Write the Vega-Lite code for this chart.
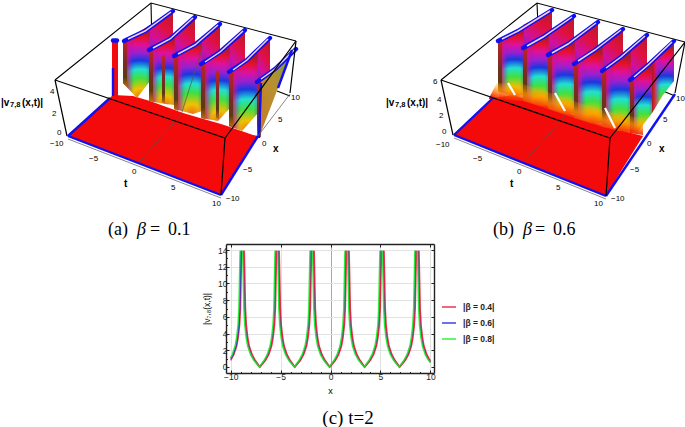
{"$schema":"https://vega.github.io/schema/vega-lite/v6.json","padding":0,"background":"white","columns":2,"spacing":0,"bounds":"flush",
"config":{"view":{"stroke":null},"text":{"font":"Liberation Sans","baseline":"middle","align":"left"},"line":{"clip":false}},
"datasets":{
"fa":[{"w":1,"u":123,"t":38,"b":80},{"w":1,"u":137,"t":30,"b":95},{"w":1,"u":150,"t":22,"b":78},{"w":2,"u":149,"t":47,"b":98},{"w":2,"u":165,"t":37,"b":101},{"w":2,"u":175,"t":30,"b":102},{"w":3,"u":174,"t":53,"b":106},{"w":3,"u":193,"t":40,"b":111},{"w":3,"u":202,"t":34,"b":108},{"w":4,"u":201,"t":61,"b":115},{"w":4,"u":218,"t":48,"b":118},{"w":4,"u":230,"t":39,"b":105},{"w":5,"u":229,"t":69,"b":123},{"w":5,"u":242,"t":60,"b":128},{"w":5,"u":258,"t":47,"b":110}],
"fb":[{"w":1,"u":155,"t":38,"b":88},{"w":1,"u":170,"t":29,"b":93},{"w":1,"u":181,"t":22,"b":92},{"w":2,"u":180,"t":45,"b":97},{"w":2,"u":197,"t":34,"b":103},{"w":2,"u":206,"t":28,"b":102},{"w":3,"u":205,"t":52,"b":105},{"w":3,"u":222,"t":41,"b":111},{"w":3,"u":232,"t":35,"b":110},{"w":4,"u":231,"t":61,"b":114},{"w":4,"u":248,"t":49,"b":120},{"w":4,"u":260,"t":41,"b":120},{"w":5,"u":259,"t":68,"b":122},{"w":5,"u":276,"t":55,"b":128},{"w":5,"u":288,"t":47,"b":128},{"w":6,"u":287,"t":77,"b":128},{"w":6,"u":294,"t":71,"b":130},{"w":6,"u":309,"t":59,"b":110},{"w":7,"u":309,"t":59,"b":110},{"w":7,"u":320,"t":49,"b":92},{"w":7,"u":331,"t":38,"b":78}]
},
"concat":[
{"width":226,"height":241,
"encoding":{"x":{"field":"u","type":"quantitative","scale":{"domain":[0,226],"nice":false},"axis":null},"y":{"field":"t","type":"quantitative","scale":{"domain":[241,0],"nice":false},"axis":null}},
"layer":[
{"data":{"values":[{"e":1,"u":55,"t":77},{"e":1,"u":151,"t":0},{"e":1,"u":296,"t":38},{"e":2,"u":151,"t":0},{"e":2,"u":152,"t":45},{"e":3,"u":277,"t":88},{"e":3,"u":290,"t":93}]},"mark":{"type":"line","color":"black","strokeWidth":1.1},"encoding":{"detail":{"field":"e"}}},
{"data":{"values":[{"w":"f","u":67,"t":133,"b":133},{"w":"f","u":113,"t":92,"b":151},{"w":"f","u":133,"t":93,"b":158},{"w":"f","u":150,"t":98,"b":165},{"w":"f","u":183,"t":110,"b":177},{"w":"f","u":200,"t":115,"b":184},{"w":"f","u":221,"t":121,"b":192},{"w":"f","u":227,"t":123,"b":182},{"w":"f","u":253,"t":132,"b":141},{"w":"f","u":258,"t":133,"b":133},{"w":"s","u":112,"t":38,"b":95},{"w":"s","u":118,"t":38,"b":95}]},"mark":{"type":"area","color":"#f40a0a"},"encoding":{"y2":{"field":"b"},"detail":{"field":"w"}}},
{"data":{"values":[{"w":1,"u":149,"t":23,"b":52},{"w":1,"u":173,"t":8,"b":40},{"w":2,"u":174,"t":31,"b":58},{"w":2,"u":195,"t":14,"b":45},{"w":3,"u":201,"t":34,"b":65},{"w":3,"u":220,"t":21,"b":55},{"w":4,"u":229,"t":39,"b":73},{"w":4,"u":245,"t":27,"b":62},{"w":5,"u":257,"t":48,"b":83},{"w":5,"u":270,"t":35,"b":72}]},"mark":{"type":"area","fill":{"gradient":"linear","x1":0.7,"y1":0,"x2":0.3,"y2":1,"stops":[{"offset":0,"color":"#c01828"},{"offset":0.35,"color":"#e01040"},{"offset":0.7,"color":"#d010a0"},{"offset":1,"color":"#8020c0"}]}},"encoding":{"y2":{"field":"b"},"detail":{"field":"w"}}},
{"data":{"name":"fa"},"mark":{"type":"area","fill":{"gradient":"radial","x1":0.55,"y1":1,"r1":0,"x2":0.55,"y2":1,"r2":0.92,"stops":[{"offset":0,"color":"#e8701a"},{"offset":0.14,"color":"#f2c000"},{"offset":0.3,"color":"#40e040"},{"offset":0.43,"color":"#20e0d0"},{"offset":0.56,"color":"#1838e0"},{"offset":0.67,"color":"#9a20d0"},{"offset":0.79,"color":"#e0109a"},{"offset":0.9,"color":"#e8102a"},{"offset":1,"color":"#b01818"}]}},"encoding":{"y2":{"field":"b"},"detail":{"field":"w"}}},
{"data":{"name":"fa"},"mark":{"type":"area","fill":{"gradient":"linear","x1":0,"y1":0.5,"x2":1,"y2":0.5,"stops":[{"offset":0,"color":"rgba(168,24,24,1)"},{"offset":0.12,"color":"rgba(225,16,60,0.85)"},{"offset":0.24,"color":"rgba(200,20,170,0.5)"},{"offset":0.34,"color":"rgba(120,30,210,0.15)"},{"offset":0.42,"color":"rgba(60,40,220,0)"},{"offset":0.85,"color":"rgba(60,40,220,0)"},{"offset":1,"color":"rgba(200,20,120,0.35)"}]}},"encoding":{"y2":{"field":"b"},"detail":{"field":"w"}}},
{"data":{"values":[{"w":6,"u":260,"t":79,"b":132},{"w":6,"u":278,"t":62,"b":85},{"w":6,"u":291,"t":47,"b":48}]},"mark":{"type":"area","fill":{"gradient":"linear","x1":0,"y1":1,"x2":1,"y2":0,"stops":[{"offset":0,"color":"#c87a28"},{"offset":0.5,"color":"#b89030"},{"offset":1,"color":"#7a9a40"}]}},"encoding":{"y2":{"field":"b"},"detail":{"field":"w"}}},
{"data":{"values":[{"w":1,"u":123,"t":38,"b":80},{"w":1,"u":127,"t":36,"b":84},{"w":2,"u":149,"t":47,"b":98},{"w":2,"u":153,"t":44,"b":98},{"w":3,"u":174,"t":53,"b":106},{"w":3,"u":178,"t":50,"b":108},{"w":4,"u":201,"t":61,"b":115},{"w":4,"u":205,"t":58,"b":116},{"w":5,"u":229,"t":69,"b":122},{"w":5,"u":233,"t":66,"b":124},{"w":7,"u":162,"t":53,"b":99},{"w":7,"u":165,"t":52,"b":100},{"w":8,"u":216,"t":69,"b":115},{"w":8,"u":219,"t":67,"b":116},{"w":9,"u":257,"t":79,"b":134},{"w":9,"u":261,"t":76,"b":134}]},"mark":{"type":"area","fill":{"gradient":"linear","x1":0,"y1":0,"x2":0,"y2":1,"stops":[{"offset":0,"color":"#c8202a"},{"offset":0.5,"color":"#7a2a28"},{"offset":0.8,"color":"#5a3a10"},{"offset":1,"color":"#c06a10"}]}},"encoding":{"y2":{"field":"b"},"detail":{"field":"w"}}},
{"data":{"values":[{"e":1,"u":124,"t":38},{"e":1,"u":145,"t":28},{"e":1,"u":173,"t":8},{"e":2,"u":149,"t":47},{"e":2,"u":170,"t":36},{"e":2,"u":195,"t":14},{"e":3,"u":174,"t":53},{"e":3,"u":195,"t":42},{"e":3,"u":220,"t":21},{"e":4,"u":201,"t":61},{"e":4,"u":220,"t":49},{"e":4,"u":245,"t":27},{"e":5,"u":229,"t":69},{"e":5,"u":247,"t":57},{"e":5,"u":270,"t":35},{"e":6,"u":257,"t":79},{"e":6,"u":275,"t":66},{"e":6,"u":296,"t":46},{"e":7,"u":113,"t":37.5},{"e":7,"u":117,"t":37.5}]},"mark":{"type":"line","color":"#1010f0","strokeWidth":4.4,"strokeCap":"round"},"encoding":{"detail":{"field":"e"}}},
{"data":{"values":[{"e":1,"u":128,"t":36},{"e":1,"u":145,"t":28},{"e":1,"u":171,"t":9},{"e":2,"u":153,"t":45},{"e":2,"u":170,"t":36},{"e":2,"u":193,"t":15},{"e":3,"u":178,"t":51},{"e":3,"u":195,"t":42},{"e":3,"u":218,"t":22},{"e":4,"u":205,"t":59},{"e":4,"u":220,"t":49},{"e":4,"u":243,"t":28},{"e":5,"u":233,"t":67},{"e":5,"u":247,"t":57},{"e":5,"u":268,"t":36},{"e":6,"u":261,"t":76},{"e":6,"u":275,"t":66},{"e":6,"u":294,"t":47}]},"mark":{"type":"line","color":"#f6d4de","strokeWidth":1.5},"encoding":{"detail":{"field":"e"}}},
{"data":{"values":[{"e":1,"u":68,"t":133},{"e":1,"u":221,"t":192},{"e":2,"u":68,"t":133},{"e":2,"u":110,"t":95},{"e":3,"u":221,"t":192},{"e":3,"u":258,"t":133},{"e":4,"u":113,"t":65},{"e":4,"u":113,"t":93},{"e":5,"u":261,"t":80},{"e":5,"u":259,"t":135},{"e":6,"u":292,"t":47},{"e":6,"u":278,"t":85}]},"mark":{"type":"line","color":"#1010f0","strokeWidth":2.4},"encoding":{"detail":{"field":"e"}}},
{"data":{"values":[{"e":1,"u":140,"t":158},{"e":1,"u":181,"t":112},{"e":1,"u":203,"t":43},{"e":2,"u":258,"t":133},{"e":2,"u":290,"t":91},{"e":3,"u":68,"t":136},{"e":3,"u":221,"t":195}]},"mark":{"type":"line","color":"#555555","strokeWidth":0.7},"encoding":{"detail":{"field":"e"}}},
{"data":{"values":[{"e":1,"u":55,"t":77},{"e":1,"u":225,"t":135},{"e":1,"u":296,"t":38},{"e":2,"u":225,"t":135},{"e":2,"u":221,"t":192},{"e":3,"u":55,"t":77},{"e":3,"u":67,"t":133},{"e":4,"u":296,"t":38},{"e":4,"u":290,"t":90}]},"mark":{"type":"line","color":"black","strokeWidth":1.2},"encoding":{"detail":{"field":"e"}}},
{"data":{"values":[{"s":"−10","u":50,"t":141},{"s":"−5","u":89,"t":156},{"s":"0","u":132,"t":169},{"s":"5","u":171,"t":185},{"s":"10","u":212,"t":201},{"s":"−10","u":226,"t":196},{"s":"−5","u":243,"t":167},{"s":"0","u":262,"t":141},{"s":"5","u":278,"t":117},{"s":"10","u":291,"t":95},{"s":"4","u":50,"t":89},{"s":"2","u":52,"t":111},{"s":"0","u":57,"t":130}]},"mark":{"type":"text","fontSize":8},"encoding":{"text":{"field":"s"}}},
{"data":{"values":[{"s":"t","u":124,"t":181},{"s":"x","u":273,"t":146},{"s":"|v","u":1,"t":100},{"s":"(x,t)|","u":22,"t":100}]},"mark":{"type":"text","fontSize":10,"fontWeight":"bold"},"encoding":{"text":{"field":"s"}}},
{"data":{"values":[{"s":"7,8","u":10,"t":102}]},"mark":{"type":"text","fontSize":7.5,"fontWeight":"bold"},"encoding":{"text":{"field":"s"}}},
{"data":{"values":[{"s":"(a)","u":108,"t":227},{"s":"=","u":150,"t":227},{"s":"0.1","u":168,"t":227}]},"mark":{"type":"text","font":"Liberation Serif","fontSize":18},"encoding":{"text":{"field":"s"}}},
{"data":{"values":[{"s":"β","u":137,"t":227}]},"mark":{"type":"text","font":"Liberation Serif","fontStyle":"italic","fontSize":18},"encoding":{"text":{"field":"s"}}}
]},
{"width":459,"height":241,
"encoding":{"x":{"field":"u","type":"quantitative","scale":{"domain":[-117,342],"nice":false},"axis":null},"y":{"field":"t","type":"quantitative","scale":{"domain":[241,0],"nice":false},"axis":null}},
"layer":[
{"data":{"values":[{"e":1,"u":98,"t":77},{"e":1,"u":194,"t":0},{"e":1,"u":342,"t":39},{"e":2,"u":194,"t":0},{"e":2,"u":196,"t":45},{"e":3,"u":320,"t":88},{"e":3,"u":332,"t":93}]},"mark":{"type":"line","color":"black","strokeWidth":1.1},"encoding":{"detail":{"field":"e"}}},
{"data":{"values":[{"w":"f","u":110,"t":132,"b":132},{"w":"f","u":150,"t":95,"b":148},{"w":"f","u":170,"t":92,"b":156},{"w":"f","u":205,"t":103,"b":170},{"w":"f","u":257,"t":122,"b":191},{"w":"f","u":263,"t":124,"b":193},{"w":"f","u":280,"t":128,"b":165},{"w":"f","u":300,"t":133,"b":133}]},"mark":{"type":"area","color":"#f40a0a"},"encoding":{"y2":{"field":"b"},"detail":{"field":"w"}}},
{"data":{"values":[{"w":1,"u":180,"t":22,"b":50},{"w":1,"u":209,"t":7,"b":32},{"w":2,"u":205,"t":28,"b":57},{"w":2,"u":231,"t":13,"b":40},{"w":3,"u":231,"t":35,"b":66},{"w":3,"u":255,"t":19,"b":50},{"w":4,"u":259,"t":41,"b":73},{"w":4,"u":280,"t":26,"b":58},{"w":5,"u":287,"t":47,"b":82},{"w":5,"u":304,"t":32,"b":70}]},"mark":{"type":"area","fill":{"gradient":"linear","x1":0.7,"y1":0,"x2":0.3,"y2":1,"stops":[{"offset":0,"color":"#c01828"},{"offset":0.35,"color":"#e01040"},{"offset":0.7,"color":"#d010a0"},{"offset":1,"color":"#8020c0"}]}},"encoding":{"y2":{"field":"b"},"detail":{"field":"w"}}},
{"data":{"name":"fb"},"mark":{"type":"area","fill":{"gradient":"radial","x1":0.55,"y1":1,"r1":0,"x2":0.55,"y2":1,"r2":0.92,"stops":[{"offset":0,"color":"#e8701a"},{"offset":0.14,"color":"#f2c000"},{"offset":0.3,"color":"#40e040"},{"offset":0.43,"color":"#20e0d0"},{"offset":0.56,"color":"#1838e0"},{"offset":0.67,"color":"#9a20d0"},{"offset":0.79,"color":"#e0109a"},{"offset":0.9,"color":"#e8102a"},{"offset":1,"color":"#b01818"}]}},"encoding":{"y2":{"field":"b"},"detail":{"field":"w"}}},
{"data":{"name":"fb"},"mark":{"type":"area","fill":{"gradient":"linear","x1":0,"y1":0.5,"x2":1,"y2":0.5,"stops":[{"offset":0,"color":"rgba(168,24,24,1)"},{"offset":0.12,"color":"rgba(225,16,60,0.85)"},{"offset":0.24,"color":"rgba(200,20,170,0.5)"},{"offset":0.34,"color":"rgba(120,30,210,0.15)"},{"offset":0.42,"color":"rgba(60,40,220,0)"},{"offset":0.85,"color":"rgba(60,40,220,0)"},{"offset":1,"color":"rgba(200,20,120,0.35)"}]}},"encoding":{"y2":{"field":"b"},"detail":{"field":"w"}}},
{"data":{"values":[{"w":1,"u":155,"t":38,"b":88},{"w":1,"u":159,"t":35,"b":90},{"w":2,"u":180,"t":45,"b":95},{"w":2,"u":184,"t":42,"b":97},{"w":3,"u":205,"t":52,"b":104},{"w":3,"u":209,"t":49,"b":106},{"w":4,"u":231,"t":61,"b":112},{"w":4,"u":235,"t":58,"b":114},{"w":5,"u":259,"t":68,"b":120},{"w":5,"u":263,"t":65,"b":122},{"w":6,"u":287,"t":77,"b":126},{"w":6,"u":291,"t":74,"b":128}]},"mark":{"type":"area","fill":{"gradient":"linear","x1":0,"y1":0,"x2":0,"y2":1,"stops":[{"offset":0,"color":"#c8202a"},{"offset":0.5,"color":"#7a2a28"},{"offset":0.8,"color":"#5a3a10"},{"offset":1,"color":"#c06a10"}]}},"encoding":{"y2":{"field":"b"},"detail":{"field":"w"}}},
{"data":{"values":[{"w":9,"u":146,"t":95,"b":96},{"w":9,"u":156,"t":76,"b":96},{"w":0,"u":156,"t":80,"b":97},{"w":0,"u":180,"t":81,"b":98},{"w":1,"u":180,"t":81,"b":98},{"w":1,"u":205,"t":89,"b":106},{"w":2,"u":205,"t":89,"b":106},{"w":2,"u":231,"t":98,"b":115},{"w":3,"u":231,"t":98,"b":115},{"w":3,"u":259,"t":107,"b":124},{"w":4,"u":259,"t":107,"b":124},{"w":4,"u":287,"t":113,"b":130},{"w":5,"u":287,"t":113,"b":130},{"w":5,"u":300,"t":115,"b":132}]},"mark":{"type":"area","fill":{"gradient":"linear","x1":0.6,"y1":0,"x2":0.4,"y2":1,"stops":[{"offset":0,"color":"rgba(255,190,0,0)"},{"offset":0.5,"color":"rgba(255,140,0,0.7)"},{"offset":1,"color":"#f40a0a"}]}},"encoding":{"y2":{"field":"b"},"detail":{"field":"w"}}},
{"data":{"values":[{"e":1,"u":165,"t":80},{"e":1,"u":172,"t":92},{"e":2,"u":212,"t":90},{"e":2,"u":222,"t":108},{"e":3,"u":262,"t":105},{"e":3,"u":272,"t":125}]},"mark":{"type":"line","color":"white","strokeWidth":2.2},"encoding":{"detail":{"field":"e"}}},
{"data":{"values":[{"e":1,"u":155,"t":38},{"e":1,"u":175,"t":28},{"e":1,"u":209,"t":7},{"e":2,"u":180,"t":45},{"e":2,"u":200,"t":34},{"e":2,"u":231,"t":13},{"e":3,"u":205,"t":52},{"e":3,"u":225,"t":41},{"e":3,"u":255,"t":19},{"e":4,"u":231,"t":61},{"e":4,"u":252,"t":47},{"e":4,"u":280,"t":26},{"e":5,"u":259,"t":68},{"e":5,"u":278,"t":54},{"e":5,"u":304,"t":32},{"e":6,"u":287,"t":77},{"e":6,"u":305,"t":62},{"e":6,"u":331,"t":38}]},"mark":{"type":"line","color":"#1010f0","strokeWidth":4.4,"strokeCap":"round"},"encoding":{"detail":{"field":"e"}}},
{"data":{"values":[{"e":1,"u":159,"t":36},{"e":1,"u":175,"t":28},{"e":1,"u":207,"t":8},{"e":2,"u":184,"t":43},{"e":2,"u":200,"t":34},{"e":2,"u":229,"t":14},{"e":3,"u":209,"t":50},{"e":3,"u":225,"t":41},{"e":3,"u":253,"t":20},{"e":4,"u":235,"t":58},{"e":4,"u":252,"t":47},{"e":4,"u":278,"t":27},{"e":5,"u":263,"t":65},{"e":5,"u":278,"t":54},{"e":5,"u":302,"t":33},{"e":6,"u":291,"t":74},{"e":6,"u":305,"t":62},{"e":6,"u":329,"t":39}]},"mark":{"type":"line","color":"#f6d4de","strokeWidth":1.5},"encoding":{"detail":{"field":"e"}}},
{"data":{"values":[{"e":1,"u":111,"t":132},{"e":1,"u":263,"t":193},{"e":2,"u":111,"t":132},{"e":2,"u":150,"t":95},{"e":3,"u":263,"t":193},{"e":3,"u":332,"t":91}]},"mark":{"type":"line","color":"#1010f0","strokeWidth":2.4},"encoding":{"detail":{"field":"e"}}},
{"data":{"values":[{"e":1,"u":182,"t":158},{"e":1,"u":222,"t":113},{"e":3,"u":111,"t":135},{"e":3,"u":263,"t":196}]},"mark":{"type":"line","color":"#555555","strokeWidth":0.7},"encoding":{"detail":{"field":"e"}}},
{"data":{"values":[{"e":1,"u":98,"t":77},{"e":1,"u":267,"t":135},{"e":1,"u":342,"t":39},{"e":2,"u":267,"t":135},{"e":2,"u":263,"t":193},{"e":3,"u":98,"t":77},{"e":3,"u":110,"t":132},{"e":4,"u":342,"t":39},{"e":4,"u":332,"t":90}]},"mark":{"type":"line","color":"black","strokeWidth":1.2},"encoding":{"detail":{"field":"e"}}},
{"data":{"values":[{"s":"−10","u":93,"t":142},{"s":"−5","u":130,"t":156},{"s":"0","u":174,"t":169},{"s":"5","u":213,"t":185},{"s":"10","u":251,"t":201},{"s":"−10","u":268,"t":196},{"s":"−5","u":287,"t":167},{"s":"0","u":304,"t":141},{"s":"5","u":320,"t":117},{"s":"10","u":333,"t":96},{"s":"6","u":90,"t":79},{"s":"4","u":94,"t":97},{"s":"2","u":96,"t":113},{"s":"0","u":99,"t":129}]},"mark":{"type":"text","fontSize":8},"encoding":{"text":{"field":"s"}}},
{"data":{"values":[{"s":"t","u":167,"t":181},{"s":"x","u":316,"t":146},{"s":"|v","u":43,"t":100},{"s":"(x,t)|","u":64,"t":100}]},"mark":{"type":"text","fontSize":10,"fontWeight":"bold"},"encoding":{"text":{"field":"s"}}},
{"data":{"values":[{"s":"7,8","u":52,"t":102}]},"mark":{"type":"text","fontSize":7.5,"fontWeight":"bold"},"encoding":{"text":{"field":"s"}}},
{"data":{"values":[{"s":"(b)","u":150,"t":227},{"s":"=","u":192,"t":227},{"s":"0.6","u":210,"t":227}]},"mark":{"type":"text","font":"Liberation Serif","fontSize":18},"encoding":{"text":{"field":"s"}}},
{"data":{"values":[{"s":"β","u":180,"t":227}]},"mark":{"type":"text","font":"Liberation Serif","fontStyle":"italic","fontSize":18},"encoding":{"text":{"field":"s"}}}
]},
{"width":226,"height":129,"data":{"values":[]},"mark":{"type":"rule"},"encoding":{}},
{"width":208,"height":129,
"title":{"text":"(c) t=2","orient":"bottom","anchor":"middle","font":"Liberation Serif","fontSize":19,"fontWeight":"normal","offset":14,"dx":18},
"resolve":{"axis":{"x":"independent","y":"independent"}},
"layer":[
{"data":{"values":[{"v":0,"y":0}]},"mark":{"type":"point","opacity":0},
"encoding":{"x":{"field":"v","type":"quantitative","scale":{"domain":[-10.47,10.36],"nice":false},"axis":{"orient":"top","title":null,"labels":false,"grid":false,"values":[-10,-5,0,5,10],"tickSize":-3,"tickColor":"#222222","domainColor":"#222222","domainWidth":1.4}},
"y":{"field":"y","type":"quantitative","scale":{"domain":[-0.72,14.72],"nice":false},"axis":{"orient":"right","title":null,"labels":false,"grid":false,"values":[0,2,4,6,8,10,12,14],"tickSize":-3,"tickColor":"#222222","domainColor":"#222222","domainWidth":1.4}}}},
{"data":{"values":[{"s":0,"y":0.8,"a":-10},{"s":0,"y":1,"b":-10},{"s":0,"y":1.1,"c":-10},{"s":0,"y":1.5,"a":-9.68,"b":-9.76,"c":-9.84},{"s":0,"y":2.5,"a":-9.4,"b":-9.48,"c":-9.56},{"s":0,"y":3.5,"a":-9.25,"b":-9.33,"c":-9.41},{"s":0,"y":5,"a":-9.11,"b":-9.19,"c":-9.27},{"s":0,"y":7,"a":-9.02,"b":-9.1,"c":-9.18},{"s":0,"y":13.9,"a":-8.9,"b":-8.98,"c":-9.06},
{"s":1,"y":13.9,"a":-8.64,"b":-8.72,"c":-8.8},{"s":1,"y":7,"a":-8.52,"b":-8.6,"c":-8.68},{"s":1,"y":5,"a":-8.43,"b":-8.51,"c":-8.59},{"s":1,"y":3.5,"a":-8.29,"b":-8.37,"c":-8.45},{"s":1,"y":2.5,"a":-8.14,"b":-8.22,"c":-8.3},{"s":1,"y":1.5,"a":-7.86,"b":-7.94,"c":-8.02},{"s":1,"y":0.8,"a":-7.55,"b":-7.62,"c":-7.69},{"s":1,"y":0,"a":-7.07,"b":-7.1,"c":-7.13},{"s":1,"y":0.8,"a":-6.51,"b":-6.58,"c":-6.65},{"s":1,"y":1.5,"a":-6.18,"b":-6.26,"c":-6.34},{"s":1,"y":2.5,"a":-5.9,"b":-5.98,"c":-6.06},{"s":1,"y":3.5,"a":-5.75,"b":-5.83,"c":-5.91},{"s":1,"y":5,"a":-5.61,"b":-5.69,"c":-5.77},{"s":1,"y":7,"a":-5.52,"b":-5.6,"c":-5.68},{"s":1,"y":13.9,"a":-5.4,"b":-5.48,"c":-5.56},
{"s":2,"y":13.9,"a":-5.14,"b":-5.22,"c":-5.3},{"s":2,"y":7,"a":-5.02,"b":-5.1,"c":-5.18},{"s":2,"y":5,"a":-4.93,"b":-5.01,"c":-5.09},{"s":2,"y":3.5,"a":-4.79,"b":-4.87,"c":-4.95},{"s":2,"y":2.5,"a":-4.64,"b":-4.72,"c":-4.8},{"s":2,"y":1.5,"a":-4.36,"b":-4.44,"c":-4.52},{"s":2,"y":0.8,"a":-4.05,"b":-4.12,"c":-4.19},{"s":2,"y":0,"a":-3.57,"b":-3.6,"c":-3.63},{"s":2,"y":0.8,"a":-3.01,"b":-3.08,"c":-3.15},{"s":2,"y":1.5,"a":-2.68,"b":-2.76,"c":-2.84},{"s":2,"y":2.5,"a":-2.4,"b":-2.48,"c":-2.56},{"s":2,"y":3.5,"a":-2.25,"b":-2.33,"c":-2.41},{"s":2,"y":5,"a":-2.11,"b":-2.19,"c":-2.27},{"s":2,"y":7,"a":-2.02,"b":-2.1,"c":-2.18},{"s":2,"y":13.9,"a":-1.9,"b":-1.98,"c":-2.06},
{"s":3,"y":13.9,"a":-1.64,"b":-1.72,"c":-1.8},{"s":3,"y":7,"a":-1.52,"b":-1.6,"c":-1.68},{"s":3,"y":5,"a":-1.43,"b":-1.51,"c":-1.59},{"s":3,"y":3.5,"a":-1.29,"b":-1.37,"c":-1.45},{"s":3,"y":2.5,"a":-1.14,"b":-1.22,"c":-1.3},{"s":3,"y":1.5,"a":-0.86,"b":-0.94,"c":-1.02},{"s":3,"y":0.8,"a":-0.55,"b":-0.62,"c":-0.69},{"s":3,"y":0,"a":-0.07,"b":-0.1,"c":-0.13},{"s":3,"y":0.8,"a":0.49,"b":0.42,"c":0.35},{"s":3,"y":1.5,"a":0.82,"b":0.74,"c":0.66},{"s":3,"y":2.5,"a":1.1,"b":1.02,"c":0.94},{"s":3,"y":3.5,"a":1.25,"b":1.17,"c":1.09},{"s":3,"y":5,"a":1.39,"b":1.31,"c":1.23},{"s":3,"y":7,"a":1.48,"b":1.4,"c":1.32},{"s":3,"y":13.9,"a":1.6,"b":1.52,"c":1.44},
{"s":4,"y":13.9,"a":1.86,"b":1.78,"c":1.7},{"s":4,"y":7,"a":1.98,"b":1.9,"c":1.82},{"s":4,"y":5,"a":2.07,"b":1.99,"c":1.91},{"s":4,"y":3.5,"a":2.21,"b":2.13,"c":2.05},{"s":4,"y":2.5,"a":2.36,"b":2.28,"c":2.2},{"s":4,"y":1.5,"a":2.64,"b":2.56,"c":2.48},{"s":4,"y":0.8,"a":2.95,"b":2.88,"c":2.81},{"s":4,"y":0,"a":3.43,"b":3.4,"c":3.37},{"s":4,"y":0.8,"a":3.99,"b":3.92,"c":3.85},{"s":4,"y":1.5,"a":4.32,"b":4.24,"c":4.16},{"s":4,"y":2.5,"a":4.6,"b":4.52,"c":4.44},{"s":4,"y":3.5,"a":4.75,"b":4.67,"c":4.59},{"s":4,"y":5,"a":4.89,"b":4.81,"c":4.73},{"s":4,"y":7,"a":4.98,"b":4.9,"c":4.82},{"s":4,"y":13.9,"a":5.1,"b":5.02,"c":4.94},
{"s":5,"y":13.9,"a":5.36,"b":5.28,"c":5.2},{"s":5,"y":7,"a":5.48,"b":5.4,"c":5.32},{"s":5,"y":5,"a":5.57,"b":5.49,"c":5.41},{"s":5,"y":3.5,"a":5.71,"b":5.63,"c":5.55},{"s":5,"y":2.5,"a":5.86,"b":5.78,"c":5.7},{"s":5,"y":1.5,"a":6.14,"b":6.06,"c":5.98},{"s":5,"y":0.8,"a":6.45,"b":6.38,"c":6.31},{"s":5,"y":0,"a":6.93,"b":6.9,"c":6.87},{"s":5,"y":0.8,"a":7.49,"b":7.42,"c":7.35},{"s":5,"y":1.5,"a":7.82,"b":7.74,"c":7.66},{"s":5,"y":2.5,"a":8.1,"b":8.02,"c":7.94},{"s":5,"y":3.5,"a":8.25,"b":8.17,"c":8.09},{"s":5,"y":5,"a":8.39,"b":8.31,"c":8.23},{"s":5,"y":7,"a":8.48,"b":8.4,"c":8.32},{"s":5,"y":13.9,"a":8.6,"b":8.52,"c":8.44},
{"s":6,"y":13.9,"a":8.86,"b":8.78,"c":8.7},{"s":6,"y":7,"a":8.98,"b":8.9,"c":8.82},{"s":6,"y":5,"a":9.07,"b":8.99,"c":8.91},{"s":6,"y":3.5,"a":9.21,"b":9.13,"c":9.05},{"s":6,"y":2.5,"a":9.36,"b":9.28,"c":9.2},{"s":6,"y":1.5,"a":9.64,"b":9.56,"c":9.48},{"s":6,"y":1,"a":9.86,"b":9.78,"c":9.7},{"s":6,"y":0.75,"a":10},{"s":6,"y":0.6,"b":10},{"s":6,"y":0.5,"c":10}]},
"transform":[{"fold":["b","a","c"],"as":["k","v"]},{"filter":"isValid(datum.v)"}],
"mark":{"type":"line","strokeWidth":1.5,"opacity":0.85,"clip":false},
"encoding":{
"x":{"field":"v","type":"quantitative","scale":{"domain":[-10.47,10.36],"nice":false},"axis":{"orient":"bottom","title":"x","titleFont":"Liberation Sans","titleFontWeight":"normal","titleFontSize":9,"titlePadding":4,"labelFont":"Liberation Sans","labelFontSize":8.5,"labelColor":"#222222","labelPadding":2,"labelOverlap":false,"values":[-10,-9,-8,-7,-6,-5,-4,-3,-2,-1,0,1,2,3,4,5,6,7,8,9,10],"labelExpr":"datum.value%5==0?datum.label:''","tickSize":{"condition":{"test":"datum.value%5==0","value":-3},"value":-1.5},"tickColor":"#222222","domainColor":"#222222","domainWidth":1.4,"grid":true,"gridColor":{"condition":{"test":"datum.value==0","value":"#a8a8a8"},"value":"#e2e2e2"},"gridOpacity":{"condition":{"test":"datum.value%5==0","value":1},"value":0}}},
"y":{"field":"y","type":"quantitative","scale":{"domain":[-0.72,14.72],"nice":false},"axis":{"orient":"left","title":"|v₇,₈(x,t)|","titleFont":"Liberation Sans","titleFontWeight":"normal","titleFontSize":8.5,"titlePadding":6,"labelFont":"Liberation Sans","labelFontSize":8.5,"labelColor":"#222222","labelPadding":2,"labelOverlap":false,"values":[0,1,2,3,4,5,6,7,8,9,10,11,12,13,14],"labelExpr":"datum.value%2==0?datum.label:''","tickSize":{"condition":{"test":"datum.value%2==0","value":-3},"value":-1.5},"tickColor":"#222222","domainColor":"#222222","domainWidth":1.4,"grid":true,"gridColor":"#e2e2e2","gridOpacity":{"condition":{"test":"datum.value%2==0&&datum.value>0","value":1},"value":0}}},
"color":{"field":"k","type":"nominal","scale":{"domain":["a","b","c"],"range":["#f01030","#2020e0","#10f020"]},"legend":{"orient":"none","legendX":441,"legendY":296,"title":null,"symbolType":"stroke","symbolSize":196,"symbolStrokeWidth":1.5,"labelFont":"Liberation Sans","labelFontWeight":"bold","labelFontSize":8.5,"labelColor":"#222222","labelOffset":6,"rowPadding":3,"labelExpr":"datum.label=='a'?'|β = 0.4|':datum.label=='b'?'|β = 0.6|':'|β = 0.8|'"}},
"detail":{"field":"s"}}}
]}
]}
